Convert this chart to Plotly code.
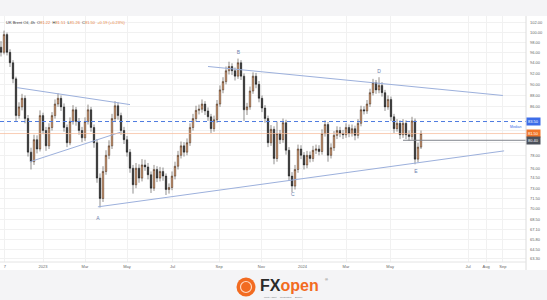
import math
import plotly.graph_objects as go

# ---------------- data ----------------
bars = list(range(141))
close = [96.0, 99.5, 96.0, 94.0, 91.0, 84.5, 86.0, 87.5, 84.0, 78.5,
         77.0, 80.5, 79.0, 84.5, 82.0, 79.5, 82.5, 84.5, 86.5, 87.5,
         86.0, 82.5, 80.0, 83.5, 85.5, 83.5, 82.0, 80.8, 83.5, 85.5,
         82.5, 80.0, 74.5, 71.5, 75.5, 78.0, 79.5, 84.0, 86.2, 84.5,
         82.0, 80.5, 78.5, 76.0, 73.5, 76.0, 74.5, 76.5, 76.2, 75.0,
         73.0, 75.8, 74.5, 75.5, 74.8, 72.8, 73.1, 74.8, 76.3, 78.0,
         79.5, 78.5, 80.0, 82.5, 84.0, 85.4, 85.6, 86.5, 85.3, 84.3,
         82.3, 83.8, 86.5, 89.0, 90.5, 92.5, 93.3, 92.5, 91.5, 94.0,
         91.5, 85.5, 86.0, 88.8, 91.5, 90.0, 87.5, 85.8, 84.0, 80.0,
         82.2, 77.5, 81.5, 80.5, 83.3, 78.8, 74.8, 73.3, 75.8, 79.0,
         78.0, 76.5, 78.0, 77.5, 78.8, 79.0, 78.6, 81.5, 83.0, 78.0,
         79.2, 81.2, 82.0, 81.5, 81.3, 82.5, 81.5, 82.3, 81.2, 83.2,
         85.5, 85.3, 86.5, 88.5, 90.3, 89.0, 89.8, 88.5, 86.0, 87.3,
         84.3, 82.3, 83.2, 81.3, 83.2, 81.3, 81.0, 83.6, 77.4, 79.3,
         81.5]
open_ = [97.0, 96.0, 99.5, 96.0, 94.0, 91.0, 84.5, 86.0, 87.5, 84.0,
         78.5, 77.0, 80.5, 79.0, 84.5, 82.0, 79.5, 82.5, 84.5, 86.5,
         87.5, 86.0, 82.5, 80.0, 83.5, 85.5, 83.5, 82.0, 80.8, 83.5,
         85.5, 82.5, 80.0, 74.5, 71.5, 75.5, 78.0, 79.5, 84.0, 86.2,
         84.5, 82.0, 80.5, 78.5, 76.0, 73.5, 76.0, 74.5, 76.5, 76.2,
         75.0, 73.0, 75.8, 74.5, 75.5, 74.8, 72.8, 73.1, 74.8, 76.3,
         78.0, 79.5, 78.5, 80.0, 82.5, 84.0, 85.4, 85.6, 86.5, 85.3,
         84.3, 82.3, 83.8, 86.5, 89.0, 90.5, 92.5, 93.3, 92.5, 91.5,
         94.0, 91.5, 85.5, 86.0, 88.8, 91.5, 90.0, 87.5, 85.8, 84.0,
         80.0, 82.2, 77.5, 81.5, 80.5, 83.3, 78.8, 74.8, 73.3, 75.8,
         79.0, 78.0, 76.5, 78.0, 77.5, 78.8, 79.0, 78.6, 81.5, 83.0,
         78.0, 79.2, 81.2, 82.0, 81.5, 81.3, 82.5, 81.5, 82.3, 81.2,
         83.2, 85.5, 85.3, 86.5, 88.5, 90.3, 89.0, 89.8, 88.5, 86.0,
         87.3, 84.3, 82.3, 83.2, 81.3, 83.2, 81.3, 81.0, 83.6, 77.4,
         79.3]
high = [98.2, 100.3, 99.9, 96.6, 94.5, 91.4, 86.8, 88.3, 88.0, 84.6,
        79.2, 81.3, 81.2, 85.4, 85.0, 82.6, 83.2, 85.1, 87.3, 88.4,
        88.0, 86.6, 83.0, 84.2, 86.3, 86.0, 84.1, 82.6, 84.2, 86.4,
        86.0, 83.0, 80.6, 75.2, 76.3, 78.8, 80.4, 84.8, 87.0, 86.8,
        85.0, 82.6, 81.1, 79.0, 76.5, 76.8, 76.6, 77.4, 77.3, 76.8,
        75.5, 76.5, 76.3, 76.2, 76.1, 75.2, 73.7, 75.5, 77.0, 78.7,
        80.2, 80.1, 80.7, 83.2, 84.8, 86.2, 86.4, 87.3, 87.0, 85.9,
        84.8, 84.5, 87.2, 89.8, 91.3, 93.3, 94.2, 93.9, 93.1, 94.8,
        94.5, 92.0, 86.7, 89.6, 92.2, 92.1, 90.6, 88.0, 86.3, 84.5,
        82.9, 82.7, 83.5, 82.1, 84.0, 83.8, 79.3, 75.4, 76.5, 79.7,
        79.6, 78.5, 78.7, 78.6, 79.5, 79.7, 79.6, 82.2, 83.7, 83.4,
        79.9, 81.9, 82.7, 82.6, 82.1, 83.2, 83.0, 83.0, 82.8, 83.9,
        86.2, 86.1, 87.2, 89.2, 91.0, 90.8, 91.3, 90.4, 89.0, 88.0,
        87.8, 84.8, 83.9, 83.7, 83.9, 83.7, 82.0, 84.3, 84.0, 80.0,
        82.0]
low = [95.2, 95.6, 95.4, 93.2, 90.2, 83.6, 84.0, 85.4, 83.2, 77.8,
       75.8, 76.5, 78.3, 78.6, 81.4, 78.7, 79.0, 82.0, 84.0, 86.0,
       85.3, 81.8, 79.3, 79.6, 83.0, 82.8, 81.3, 80.1, 80.3, 83.0,
       81.8, 79.2, 73.8, 70.2, 71.0, 75.0, 77.4, 79.0, 83.5, 83.8,
       81.3, 79.8, 77.8, 75.3, 72.2, 73.0, 73.8, 74.0, 75.6, 74.3,
       72.3, 72.6, 73.9, 74.0, 74.1, 72.0, 72.2, 72.7, 74.3, 75.8,
       77.5, 77.8, 78.0, 79.5, 82.0, 83.5, 84.7, 85.0, 84.6, 83.6,
       81.6, 81.8, 83.3, 86.0, 88.4, 90.0, 91.8, 91.7, 90.7, 91.0,
       90.8, 83.6, 84.6, 85.5, 88.3, 89.3, 86.8, 85.1, 83.3, 79.3,
       79.5, 76.6, 77.0, 79.8, 80.0, 78.1, 74.1, 72.4, 72.8, 75.3,
       77.4, 75.8, 76.0, 76.9, 77.0, 78.2, 78.0, 78.1, 81.0, 77.0,
       77.5, 78.7, 80.6, 80.9, 80.6, 80.8, 80.9, 81.0, 80.4, 80.7,
       82.7, 84.7, 84.8, 86.0, 88.0, 88.3, 88.4, 87.8, 85.3, 85.5,
       83.6, 81.6, 81.8, 80.6, 80.8, 80.6, 80.3, 80.5, 76.6, 76.9,
       79.0]

x_tick_bars = [1.3, 14.0, 28.0, 42.0, 57.2, 72.7, 86.8, 100.5, 115.0, 129.7, 155.7, 161.7, 167.3]
x_tick_text = ["7", "2023", "Mar", "May", "Jul", "Sep", "Nov", "2024", "Mar", "May", "Jul", "Aug", "Sep"]

y_tick_vals = [102, 100, 98, 96, 94, 92, 90, 88, 86, 84, 82, 80, 78, 76, 74.5, 73, 71.5, 70, 68.5, 67.1, 65.8, 64.5, 63.3]
y_tick_text = ["102.00", "100.00", "98.00", "96.00", "94.00", "92.00", "90.00", "88.00", "86.00", "", "", "",
               "78.00", "76.00", "74.50", "73.00", "71.50", "70.00", "68.50", "67.10", "65.80", "64.50", "63.30"]

# trend lines: start bar, start price, end bar, end price
trend_x0 = [5.4, 9.7, 32.3, 69.0]
trend_p0 = [89.4, 77.0, 70.3, 93.3]
trend_x1 = [43.0, 39.7, 167.7, 167.3]
trend_p1 = [86.4, 81.7, 78.7, 88.0]

wave_labels = ["A", "B", "C", "D", "E"]
wave_bars = [32.3, 79.1, 97.3, 126.0, 138.3]
wave_prices = [68.7, 95.9, 72.0, 92.3, 75.5]

median_level = 83.5
last_price = 81.5
support_level = 80.4
support_start_bar = 134.0

X_MIN, X_MAX = -0.333, 175.0

# ---------------- figure ----------------
fig = go.Figure()

fig.add_trace(go.Candlestick(
    x=bars, open=open_, high=high, low=low, close=close,
    increasing=dict(line=dict(color="#2a1c12", width=0.5), fillcolor="#f0a46c"),
    decreasing=dict(line=dict(color="#1c1c1c", width=0.5), fillcolor="#1c1c1c"),
    whiskerwidth=0, showlegend=False, hoverinfo="skip"))

for a, b, c, d in zip(trend_x0, trend_p0, trend_x1, trend_p1):
    fig.add_trace(go.Scatter(x=[a, c], y=[b, d], mode="lines",
                             line=dict(color="#9cb0dc", width=1),
                             showlegend=False, hoverinfo="skip"))

fig.add_trace(go.Scatter(x=[X_MIN, X_MAX], y=[median_level, median_level], mode="lines",
                         line=dict(color="#4f7be0", width=1, dash="4px,3px"),
                         showlegend=False, hoverinfo="skip"))
fig.add_trace(go.Scatter(x=[X_MIN, X_MAX], y=[last_price, last_price], mode="lines",
                         line=dict(color="#f6b996", width=0.7),
                         showlegend=False, hoverinfo="skip"))
fig.add_trace(go.Scatter(x=[support_start_bar, X_MAX], y=[support_level, support_level], mode="lines",
                         line=dict(color="#80848c", width=1),
                         showlegend=False, hoverinfo="skip"))

fig.add_trace(go.Scatter(x=wave_bars, y=wave_prices, mode="text", text=wave_labels,
                         textfont=dict(size=5, color="#6c7fae", family="Liberation Sans"),
                         showlegend=False, hoverinfo="skip"))

W, H = 547, 300
PL, PR, PT, PB = 0, 21, 16, 38
pw, ph = W - PL - PR, H - PT - PB


def px(x):
    return (x - PL) / pw


def py(y):
    return (H - PB - y) / ph


shapes = [
    dict(type="rect", xref="paper", yref="paper", x0=px(0), x1=px(W), y0=py(270), y1=py(16),
         fillcolor="white", line=dict(width=0), layer="below"),
    dict(type="line", xref="paper", yref="paper", x0=1, x1=1, y0=py(270), y1=py(16),
         line=dict(color="#dcdcdc", width=1)),
    dict(type="line", xref="paper", yref="paper", x0=0, x1=1, y0=0, y1=0,
         line=dict(color="#e4e4e4", width=1)),
    dict(type="circle", xref="paper", yref="paper", x0=px(236.5), x1=px(255.5), y0=py(296.5), y1=py(277.5),
         fillcolor="#f26b21", line=dict(width=0)),
    dict(type="circle", xref="paper", yref="paper", x0=px(240.5), x1=px(251.5), y0=py(292.5), y1=py(281.5),
         fillcolor="rgba(0,0,0,0)", line=dict(color="#ffd9c2", width=1.2)),
]

annotations = [
    dict(xref="paper", yref="paper", x=px(4), y=py(22), xanchor="left", yanchor="middle", showarrow=False,
         text="UK Brent Oil, 4h  O<span style='color:#e8823c'>81.22</span>  H<span style='color:#e8823c'>81.51</span>"
              "  L<span style='color:#e8823c'>81.26</span>  C<span style='color:#e8823c'>81.50</span>"
              "  <span style='color:#e8823c'>+0.19 (+0.23%)</span>",
         font=dict(size=4, color="#333", family="Liberation Sans")),
    dict(xref="paper", yref="y", x=1.0, y=math.log10(median_level), xanchor="left", yanchor="middle",
         showarrow=False, text="83.50", bgcolor="#3d6de8", borderpad=1,
         font=dict(size=4, color="white", family="Liberation Sans")),
    dict(xref="paper", yref="y", x=1.0, y=math.log10(last_price), xanchor="left", yanchor="middle",
         showarrow=False, text="81.50", bgcolor="#f0762a", borderpad=1,
         font=dict(size=4, color="white", family="Liberation Sans")),
    dict(xref="paper", yref="y", x=1.0, y=math.log10(support_level), xanchor="left", yanchor="middle",
         showarrow=False, text="80.40", bgcolor="#4b505a", borderpad=1,
         font=dict(size=4, color="white", family="Liberation Sans")),
    dict(xref="paper", yref="y", x=px(524), y=math.log10(median_level), xanchor="right", yanchor="top",
         yshift=-1, showarrow=False, text="Median",
         font=dict(size=3.5, color="#3d6de8", family="Liberation Sans")),
    dict(xref="paper", yref="paper", x=px(258), y=py(285), xanchor="left", yanchor="middle", showarrow=False,
         text="<b><span style='color:#2a2a2a'>FX</span><span style='color:#f26b21'>open</span></b>",
         font=dict(size=16, family="Liberation Sans")),
    dict(xref="paper", yref="paper", x=px(323), y=py(279), xanchor="left", yanchor="middle", showarrow=False,
         text="®", font=dict(size=4, color="#555", family="Liberation Sans")),
    dict(xref="paper", yref="paper", x=px(262), y=py(297.5), xanchor="left", yanchor="middle", showarrow=False,
         text="Multi-Asset  ·  Regulated  ·  Broker", font=dict(size=2.5, color="#777", family="Liberation Sans")),
]

fig.update_layout(
    width=W, height=H,
    margin=dict(l=PL, r=PR, t=PT, b=PB),
    paper_bgcolor="#f4f4f6", plot_bgcolor="white",
    shapes=shapes, annotations=annotations,
    showlegend=False,
    xaxis=dict(range=[X_MIN, X_MAX], rangeslider=dict(visible=False), tickmode="array",
               tickvals=x_tick_bars, ticktext=x_tick_text, showgrid=True, gridcolor="#f1f1f1",
               gridwidth=1, zeroline=False, ticks="", showline=False,
               tickfont=dict(size=4, color="#666", family="Liberation Sans"), ticklabelstandoff=1),
    yaxis=dict(type="log", side="right", range=[math.log10(62.9), math.log10(103.3)],
               tickmode="array", tickvals=y_tick_vals, ticktext=y_tick_text,
               showgrid=True, gridcolor="#f1f1f1", gridwidth=1, zeroline=False, ticks="",
               showline=False, tickfont=dict(size=4, color="#666", family="Liberation Sans"),
               ticklabelstandoff=3),
)

fig.write_html("out.html")
